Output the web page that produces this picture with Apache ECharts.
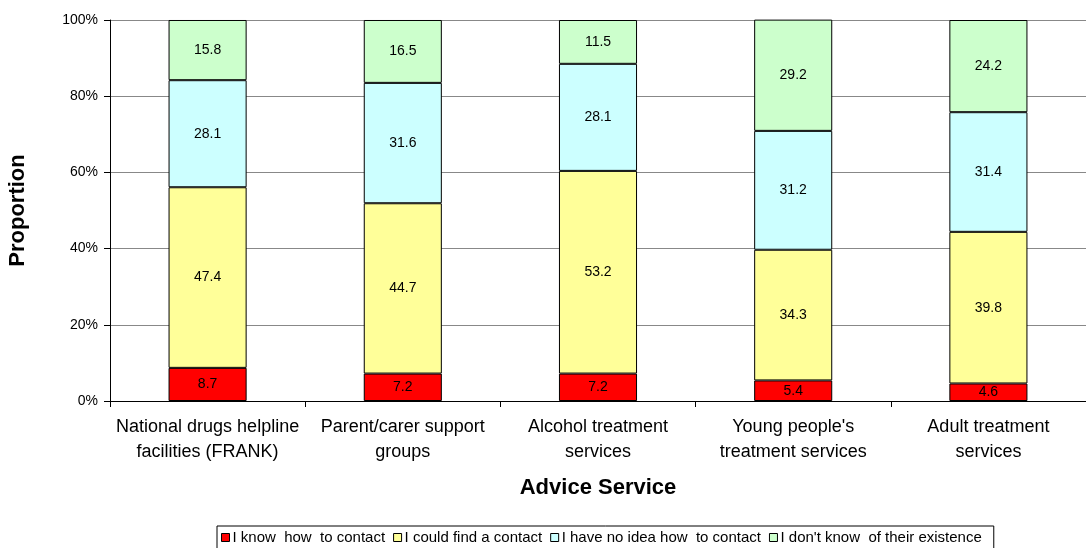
<!DOCTYPE html>
<html><head><meta charset="utf-8">
<script src="https://cdn.jsdelivr.net/npm/echarts@6/dist/echarts.min.js"></script>
<style>html,body{margin:0;padding:0;background:#fff}#c{width:1086px;height:548px}</style>
</head><body><div id="c"></div>
<script>
const categories = ['National drugs helpline\nfacilities (FRANK)', 'Parent/carer support\ngroups', 'Alcohol treatment\nservices', "Young people's\ntreatment services", 'Adult treatment\nservices'];
const knowHow = [8.7, 7.2, 7.2, 5.4, 4.6];
const couldFind = [47.4, 44.7, 53.2, 34.3, 39.8];
const noIdea = [28.1, 31.6, 28.1, 31.2, 31.4];
const dontKnow = [15.8, 16.5, 11.5, 29.2, 24.2];
const seriesNames = ['I know  how  to contact', 'I could find a contact', 'I have no idea how  to contact', "I don't know  of their existence"];
const colors = ['#FF0000', '#FFFF99', '#CCFFFF', '#CCFFCC'];

const font = 'Liberation Sans, Arial, sans-serif';
const data = [knowHow, couldFind, noIdea, dontKnow];
const chart = echarts.init(document.getElementById('c'));
chart.setOption({
  animation: false,
  textStyle: {fontFamily: font},
  grid: {left: 110, right: 0, top: 20, bottom: 147, containLabel: false, outerBoundsMode: 'none'},
  legend: {
    top: 526, left: 217,
    itemWidth: 8, itemHeight: 8, itemGap: 8,
    borderColor: '#000', borderWidth: 1, padding: [4, 12, 4, 4],
    textStyle: {fontFamily: font, fontSize: 15, color: '#000', padding: [0, 0, 0, -2]},
    data: seriesNames.map(n => ({name: n, icon: 'rect', itemStyle: {borderColor: '#000', borderWidth: 1}}))
  },
  xAxis: {
    type: 'category', data: categories,
    name: 'Advice Service', nameLocation: 'middle', nameGap: 76,
    nameTextStyle: {fontFamily: font, fontSize: 22, fontWeight: 'bold', color: '#000'},
    axisLine: {lineStyle: {color: '#000', width: 1}},
    axisTick: {show: true, length: 6, lineStyle: {color: '#000'}},
    axisLabel: {interval: 0, fontFamily: font, fontSize: 18, color: '#000', lineHeight: 25, margin: 14}
  },
  yAxis: {
    type: 'value', min: 0, max: 100, interval: 20,
    name: 'Proportion', nameLocation: 'middle', nameGap: 81, nameRotate: 90,
    nameTextStyle: {fontFamily: font, fontSize: 22, fontWeight: 'bold', color: '#000'},
    axisLine: {show: true, lineStyle: {color: '#000'}},
    axisTick: {show: true, length: 6, lineStyle: {color: '#000'}},
    axisLabel: {fontFamily: font, fontSize: 14, color: '#000', formatter: '{value}%', margin: 12},
    splitLine: {show: true, lineStyle: {color: '#888', width: 1}}
  },
  series: data.map((d, i) => ({
    name: seriesNames[i], type: 'bar', stack: 'all', data: d,
    barWidth: '40%',
    itemStyle: {color: colors[i], borderColor: '#000', borderWidth: 1},
    label: {show: true, position: 'inside', fontFamily: font, fontSize: 14, color: '#000', formatter: p => p.value.toFixed(1)}
  }))
});
</script></body></html>
